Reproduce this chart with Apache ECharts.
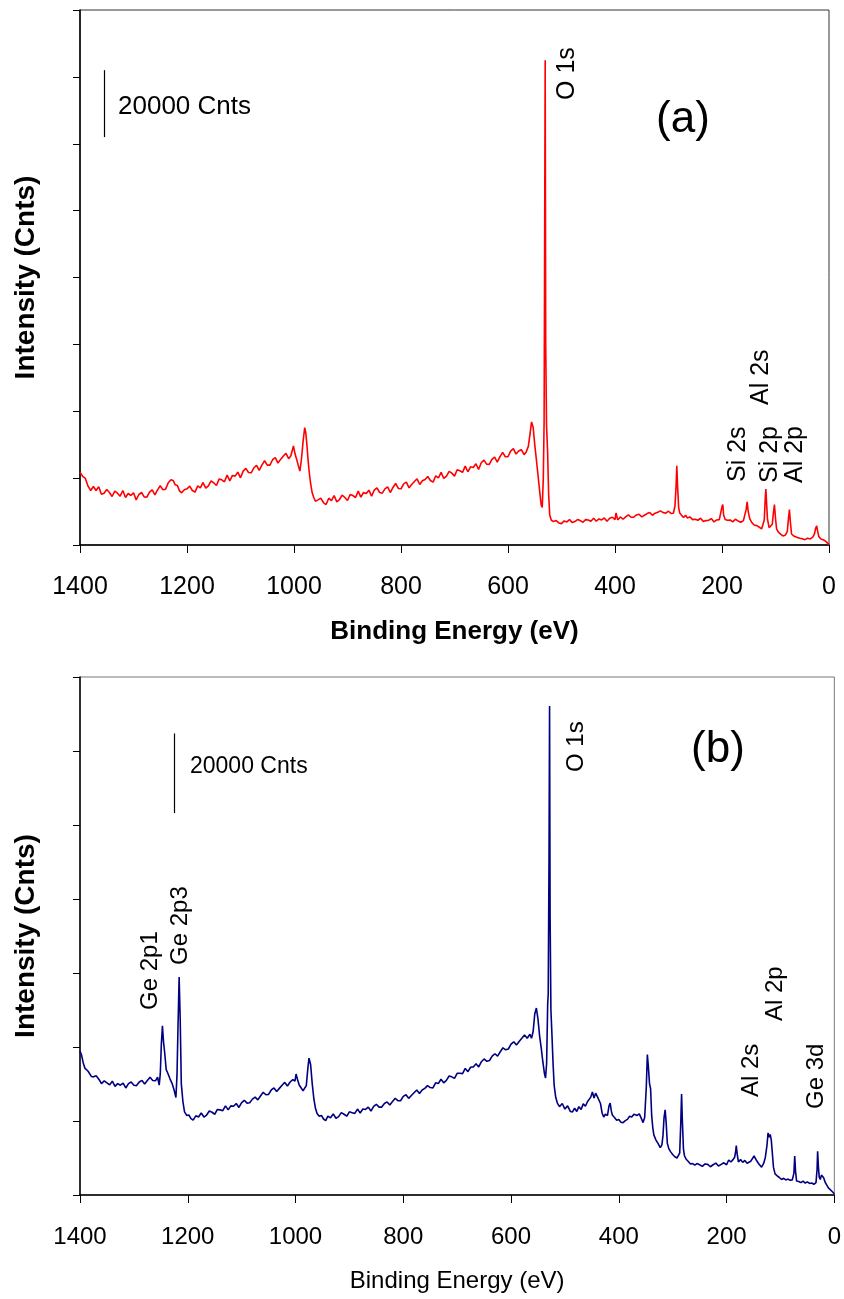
<!DOCTYPE html>
<html>
<head>
<meta charset="utf-8">
<title>XPS survey spectra</title>
<script src="https://cdn.jsdelivr.net/npm/echarts/dist/echarts.min.js"></script>
<style>
  html, body { margin: 0; padding: 0; background: #fff; }
  #main { width: 844px; height: 1299px; }
</style>
</head>
<body>
<div id="main"></div>
<script>
// x 轴刻度 (结合能, eV)
var energyTicks = [1400, 1200, 1000, 800, 600, 400, 200, 0];

// (a) 谱线: [结合能 eV, 强度 kCnts]
var spectrumA = [
  [1400,21.8],[1395,20.5],[1390,19.9],[1385,17.6],[1380,16.3],[1375,17.5],[1370,16.3],[1365,17.4],
  [1360,15.2],[1355,15.5],[1350,16.6],[1345,15.7],[1340,14.5],[1335,16.1],[1330,15.5],[1325,14.6],
  [1320,16.3],[1315,14.2],[1310,15.4],[1305,14.8],[1300,15.6],[1295,13.5],[1290,15.1],[1285,15.7],
  [1280,14.4],[1275,14.3],[1270,15.8],[1265,16.5],[1260,15.0],[1255,16.5],[1250,17.7],[1245,16.5],
  [1240,16.7],[1235,18.6],[1230,19.5],[1226,19.3],[1222,18.0],[1218,17.8],[1214,16.2],[1210,15.6],
  [1205,16.5],[1200,16.8],[1195,17.6],[1190,16.3],[1185,15.8],[1180,17.7],[1175,17.1],[1170,18.7],
  [1165,17.0],[1160,17.7],[1155,19.2],[1150,18.6],[1145,17.8],[1140,19.7],[1135,19.5],[1130,18.9],
  [1125,20.9],[1120,19.2],[1115,20.8],[1110,20.6],[1105,21.8],[1100,20.1],[1095,22.1],[1090,22.9],
  [1085,21.7],[1080,21.6],[1075,23.1],[1070,23.8],[1065,22.3],[1060,23.9],[1055,25.2],[1050,23.9],
  [1045,23.9],[1040,25.5],[1035,26.1],[1030,24.5],[1025,25.6],[1020,26.6],[1015,27.4],[1010,25.8],
  [1006,26.6],[1003,28.4],[1001,29.6],[998,27.2],[995,25.6],[992,23.8],[989,22.1],[986,25.8],
  [983,31.0],[980,35.1],[978,33.6],[976,30.2],[974,26.0],[972,22.5],[969,18.4],[966,15.6],
  [963,14.2],[960,13.1],[955,13.5],[950,14.0],[945,12.7],[940,12.1],[935,14.0],[930,13.3],
  [925,14.8],[920,12.9],[915,13.6],[910,14.9],[905,14.2],[900,13.3],[895,15.1],[890,14.8],
  [885,14.2],[880,16.1],[875,14.3],[870,15.7],[865,15.4],[860,16.4],[855,14.6],[850,16.4],
  [845,17.1],[840,15.7],[835,15.5],[830,16.8],[825,17.4],[820,15.7],[815,17.2],[810,18.4],
  [805,16.9],[800,16.8],[795,18.3],[790,18.8],[785,17.1],[780,18.1],[775,19.0],[770,19.8],
  [765,18.1],[760,19.2],[755,19.6],[750,20.5],[745,19.3],[740,18.8],[735,20.7],[730,20.1],
  [725,21.7],[720,19.9],[715,20.6],[710,22.0],[705,21.5],[700,20.6],[695,22.5],[690,22.2],
  [685,21.7],[680,23.6],[675,21.9],[670,23.4],[665,23.2],[660,24.3],[655,22.6],[650,24.6],
  [645,25.4],[640,24.2],[635,24.1],[630,25.6],[625,26.3],[620,24.8],[615,26.4],[610,27.7],
  [605,26.4],[600,26.4],[595,28.1],[590,28.8],[585,27.2],[580,28.1],[575,28.5],[570,27.0],
  [566,27.8],[562,29.5],[559,33.0],[556,36.8],[553,35.2],[550,30.0],[547,25.6],[544,21.0],
  [541,16.4],[538,12.0],[536,11.2],[534,20.0],[532.5,37.0],[531.5,90.0],[530.5,145.0],[529.5,60.0],
  [528,36.0],[526,28.0],[524,15.0],[522,9.0],[519,7.4],
  [515,7.0],[510,7.3],[505,6.6],[500,6.4],[495,7.2],[490,6.9],[485,7.6],[480,6.7],
  [475,7.0],[470,7.6],[465,7.3],[460,6.8],[455,7.6],[450,7.5],[445,7.1],[440,8.0],
  [435,7.1],[430,7.8],[425,7.5],[420,8.1],[415,7.1],[410,8.0],[405,8.3],[400,7.6],
  [398,9.6],[395,7.5],[390,8.4],[385,7.7],[380,8.4],[375,9.0],[370,8.3],[365,8.3],
  [360,9.0],[355,9.2],[350,8.4],[345,8.9],[340,9.4],[335,9.7],[330,8.9],[325,9.5],
  [320,9.8],[315,10.2],[310,9.7],[305,9.5],[300,10.1],[295,9.4],[291,9.5],[288,11.5],
  [286,17.0],[284.5,23.7],[283,17.5],[281,11.2],[279,9.6],[276,9.0],[272,8.2],[268,8.9],
  [265,8.1],[260,8.4],[255,7.6],[250,7.7],[245,7.4],[240,8.0],[235,7.0],[230,7.3],
  [225,7.4],[220,7.9],[215,6.9],[210,7.5],[205,7.6],[202,7.9],[200,11.5],[198.5,12.1],
  [197,9.0],[194,7.6],[190,7.4],[185,7.5],[180,6.9],[175,7.7],[170,7.2],[165,6.8],
  [160,7.3],[157,7.6],[155,10.5],[153,12.9],[151,10.0],[148,7.8],[145,6.9],[140,6.0],
  [135,5.8],[130,5.3],[126,4.8],[123,4.4],[121,7.5],[119,14.5],[118,16.7],[116.5,12.0],
  [115,7.8],[112,5.2],[109,4.9],[106,6.2],[104,9.5],[102,12.1],[100,8.0],[98,4.8],
  [95,3.9],[90,3.2],[86,2.7],[82,2.9],[78,4.0],[76,7.5],[74,10.6],[72,6.5],
  [70,3.3],[66,2.7],[60,2.3],[55,2.0],[50,1.9],[45,1.6],[40,2.0],[35,1.8],
  [30,2.4],[27,3.4],[25,5.0],[23,5.7],[21,4.0],[19,2.5],[15,1.8],[10,1.5],
  [6,1.1],[3,0.6],[0,0.1]
];

// (b) 谱线: [结合能 eV, 强度 kCnts]
var spectrumB = [
  [1400,36.2],[1397,35.1],[1394,33.2],[1391,31.9],[1388,32.2],[1385,31.1],[1382,31.4],[1379,29.8],
  [1375,29.7],[1370,30.0],[1365,29.1],[1360,28.0],[1355,28.7],[1350,28.2],[1345,27.7],[1340,28.6],
  [1335,27.3],[1330,28.0],[1325,27.6],[1320,28.1],[1315,26.9],[1310,28.0],[1305,28.4],[1300,27.6],
  [1295,27.5],[1290,28.4],[1285,28.8],[1280,27.9],[1275,28.8],[1270,29.6],[1265,28.8],[1260,28.7],
  [1256,29.6],[1253,27.6],[1251,30.5],[1249,38.0],[1247,42.5],[1245,38.5],[1243,36.0],[1240,31.5],
  [1237,30.6],[1233,29.2],[1229,28.0],[1225,26.2],[1222,24.5],[1220,30.0],[1218,43.0],[1216,54.8],
  [1214,44.0],[1212,28.0],[1209,23.5],[1206,20.9],[1202,20.0],[1198,20.1],[1194,19.2],[1190,18.8],
  [1185,19.9],[1180,19.6],[1175,20.6],[1170,19.6],[1165,20.1],[1160,21.1],[1155,20.8],[1150,20.3],
  [1145,21.5],[1140,21.4],[1135,21.2],[1130,22.4],[1125,21.4],[1120,22.4],[1115,22.3],[1110,23.0],
  [1105,22.0],[1100,23.2],[1095,23.8],[1090,23.1],[1085,23.2],[1080,24.1],[1075,24.6],[1070,23.9],
  [1065,24.9],[1060,25.8],[1055,25.2],[1050,25.3],[1045,26.4],[1040,26.9],[1035,26.0],[1030,26.8],
  [1025,27.6],[1020,28.3],[1015,27.4],[1010,28.4],[1005,29.0],[1001,28.6],[999,30.4],[996,28.9],
  [993,27.6],[990,27.8],[986,26.2],[983,25.9],[980,27.5],[977,32.0],[975,34.4],[972,32.8],
  [969,28.0],[966,24.2],[963,21.8],[960,20.5],[956,19.8],[952,20.0],[948,19.1],[944,18.7],
  [940,19.8],[935,19.4],[930,20.4],[925,19.3],[920,19.7],[915,20.7],[910,20.3],[905,19.8],
  [900,20.9],[895,20.7],[890,20.5],[885,21.6],[880,20.6],[875,21.6],[870,21.5],[865,22.1],
  [860,21.1],[855,22.3],[850,22.8],[845,22.1],[840,22.1],[835,23.0],[830,23.4],[825,22.6],
  [820,23.5],[815,24.3],[810,23.7],[805,23.7],[800,24.8],[795,25.2],[790,24.3],[785,25.0],
  [780,25.7],[775,26.4],[770,25.5],[765,26.4],[760,26.8],[755,27.5],[750,27.0],[745,26.9],
  [740,28.2],[735,28.0],[730,29.1],[725,28.2],[720,28.8],[715,29.9],[710,29.7],[705,29.3],
  [700,30.6],[695,30.6],[690,30.5],[685,31.8],[680,31.0],[675,32.1],[670,32.2],[665,33.0],
  [660,32.2],[655,33.5],[650,34.2],[645,33.6],[640,33.8],[635,34.9],[630,35.5],[625,34.9],
  [620,36.0],[615,37.0],[610,36.5],[605,36.7],[600,37.9],[595,38.5],[590,37.7],[585,38.6],
  [580,39.4],[575,40.2],[570,39.4],[565,40.4],[562,39.4],[559,41.1],[556,45.5],[553,47.0],
  [550,44.2],[547,40.0],[544,37.0],[541,33.5],[538,30.5],[536,29.4],[534,33.0],[532,48.0],
  [531,50.5],[529.5,85.0],[528.5,122.9],[527.5,70.0],[526,46.5],[524,40.0],[522,33.0],[520,27.6],
  [517,24.5],[514,23.1],[510,22.2],[505,23.0],[500,21.6],[495,22.4],[490,21.0],[486,20.9],
  [482,21.8],[478,21.0],[474,22.2],[470,21.5],[466,22.9],[462,22.3],[458,23.5],[455,23.0],
  [452,24.6],[449,25.9],[446,24.4],[443,25.6],[440,24.8],[437,25.0],[434,23.0],[431,20.6],
  [428,19.6],[425,20.3],[421,20.0],[418,22.5],[416,23.1],[414,21.2],[412,20.1],[408,19.5],
  [404,18.8],[400,19.0],[396,18.3],[392,18.2],[388,18.7],[384,19.0],[380,19.8],[376,19.6],
  [372,20.3],[369,20.5],[366,20.0],[362,20.4],[358,19.2],[355,18.2],[352,19.5],[349,27.0],
  [347,35.3],[345,32.0],[343,28.0],[341,26.7],[339,20.0],[337,17.0],[335,15.1],[331,13.8],
  [327,12.9],[323,11.9],[320,12.6],[318,15.0],[316,19.5],[314,21.4],[312,18.0],[310,13.0],
  [307,11.6],[304,10.9],[300,10.2],[296,9.6],[292,9.3],[289,8.8],[287,10.5],[285,18.0],
  [283.5,25.4],[282,18.5],[280,11.5],[278,9.8],[275,9.0],[271,8.4],[267,7.8],[263,7.9],
  [259,7.5],[255,7.9],[250,7.6],[245,7.2],[240,7.8],[235,7.7],[230,7.1],[225,7.6],
  [220,8.0],[215,7.3],[210,7.7],[205,8.1],[200,7.6],[196,8.8],[192,8.3],[188,8.9],
  [185,9.5],[183,11.0],[182,12.4],[180,10.0],[178,8.3],[174,8.9],[170,8.2],[166,8.7],
  [162,8.0],[159,7.9],[155,8.5],[152,8.9],[149,9.8],[147,9.4],[144,8.6],[140,7.8],
  [137,7.3],[135,7.0],[131,8.0],[128,9.5],[125,12.5],[123,15.6],[121,14.5],[119,15.2],
  [117,13.8],[115,10.5],[113,7.0],[110,5.3],[106,4.8],[102,4.4],[98,3.9],[94,4.2],
  [90,3.8],[86,4.0],[82,3.7],[78,3.8],[75,5.5],[73.5,9.8],[72,6.0],[70,3.5],
  [66,3.4],[62,3.1],[58,3.5],[54,3.0],[50,3.3],[46,2.9],[42,3.0],[38,2.7],
  [34,3.1],[32,6.5],[31,11.0],[29.5,7.0],[28,4.5],[26,3.9],[24,5.0],[22,4.6],
  [20,4.4],[17,3.2],[14,2.5],[11,1.8],[8,1.5],[5,1.0],[2,0.5],[0,0.3]
];

// 20000 Cnts 标尺 (数据坐标)
var scaleBarA = [[1355, 122], [1355, 142]];
var scaleBarB = [[1226, 96], [1226, 116]];

// 峰标注: [文字, x, y(文字底端), 字号]
var peakLabelsA = [
  ["O 1s", 567, 100, 25],
  ["Al 2s", 761, 405, 25],
  ["Si 2s", 738, 482, 25],
  ["Si 2p", 770, 483, 25],
  ["Al 2p", 795, 483, 25]
];
var peakLabelsB = [
  ["Ge 2p1", 150, 1010, 24],
  ["Ge 2p3", 180, 965, 24],
  ["O 1s", 576, 772, 24],
  ["Al 2s", 751, 1097, 24],
  ["Al 2p", 775, 1021, 24],
  ["Ge 3d", 816, 1109, 24]
];

(function () {
  var myChart = echarts.init(document.getElementById("main"));
  var font = "'Liberation Sans', Arial, sans-serif";

  // 标尺竖线
  function scaleLine(bar) {
    return {
      silent: true,
      symbol: ["none", "none"],
      label: { show: false },
      lineStyle: { color: "#000", width: 1.2, type: "solid" },
      data: [[{ coord: bar[0] }, { coord: bar[1] }]]
    };
  }

  // 竖排峰标注 + 标尺文字 + (a)(b)
  var graphics = [];
  peakLabelsA.concat(peakLabelsB).forEach(function (p) {
    graphics.push({
      type: "text",
      x: p[1],
      y: p[2],
      rotation: Math.PI / 2,
      silent: true,
      style: {
        text: p[0],
        fontFamily: font,
        fontSize: p[3],
        fill: "#000",
        align: "left",
        verticalAlign: "middle"
      }
    });
  });
  graphics.push(
    { type: "text", x: 118, y: 107, silent: true,
      style: { text: "20000 Cnts", fontFamily: font, fontSize: 26, fill: "#000", align: "left", verticalAlign: "middle" } },
    { type: "text", x: 190, y: 767, silent: true,
      style: { text: "20000 Cnts", fontFamily: font, fontSize: 23, fill: "#000", align: "left", verticalAlign: "middle" } },
    { type: "text", x: 683, y: 120, silent: true,
      style: { text: "(a)", fontFamily: font, fontSize: 44, fill: "#000", align: "center", verticalAlign: "middle" } },
    { type: "text", x: 718, y: 750, silent: true,
      style: { text: "(b)", fontFamily: font, fontSize: 44, fill: "#000", align: "center", verticalAlign: "middle" } }
  );

  function xAxisOf(gridIndex, bold, labelSize, nameSize) {
    return {
      gridIndex: gridIndex,
      type: "value",
      min: 0,
      max: 1400,
      interval: 200,
      inverse: true,
      name: "Binding Energy (eV)",
      nameLocation: "middle",
      nameGap: 74,
      nameTextStyle: { color: "#000", fontFamily: font, fontSize: nameSize, fontWeight: bold ? "bold" : "normal" },
      axisLine: { onZero: false, lineStyle: { color: "#000", width: 1.5 } },
      axisTick: { length: 8, lineStyle: { color: "#000", width: 1 } },
      axisLabel: {
        margin: 30,
        color: "#000",
        fontFamily: font,
        fontSize: labelSize,
        formatter: function (v) { return energyTicks.indexOf(v) >= 0 ? String(v) : ""; }
      },
      splitLine: { show: false }
    };
  }

  function yAxisOf(gridIndex, max, interval) {
    return {
      gridIndex: gridIndex,
      type: "value",
      min: 0,
      max: max,
      interval: interval,
      name: "Intensity (Cnts)",
      nameLocation: "middle",
      nameGap: 40,
      nameTextStyle: { color: "#000", fontFamily: font, fontSize: 28, fontWeight: "bold" },
      axisLine: { show: true, onZero: false, lineStyle: { color: "#000", width: 1.5 } },
      axisTick: { show: true, length: 7, lineStyle: { color: "#000", width: 1 } },
      axisLabel: { show: false },
      splitLine: { show: false }
    };
  }

  var option = {
    animation: false,
    backgroundColor: "#fff",
    grid: [
      { left: 80, top: 10, width: 749, height: 535, show: true, borderColor: "#333", borderWidth: 1 },
      { left: 80, top: 677, width: 756, height: 518, show: true, borderColor: "#777", borderWidth: 1 }
    ],
    xAxis: [
      xAxisOf(0, true, 25, 26),
      xAxisOf(1, false, 24, 24)
    ],
    yAxis: [
      yAxisOf(0, 160, 20),
      yAxisOf(1, 130.2, 18.6)
    ],
    graphic: graphics,
    series: [
      {
        name: "(a)",
        type: "line",
        xAxisIndex: 0,
        yAxisIndex: 0,
        showSymbol: false,
        data: spectrumA,
        lineStyle: { color: "#ff0000", width: 1.6 },
        markLine: scaleLine(scaleBarA)
      },
      {
        name: "(b)",
        type: "line",
        xAxisIndex: 1,
        yAxisIndex: 1,
        showSymbol: false,
        data: spectrumB,
        lineStyle: { color: "#000080", width: 1.6 },
        markLine: scaleLine(scaleBarB)
      }
    ]
  };

  myChart.setOption(option);
})();
</script>
</body>
</html>
